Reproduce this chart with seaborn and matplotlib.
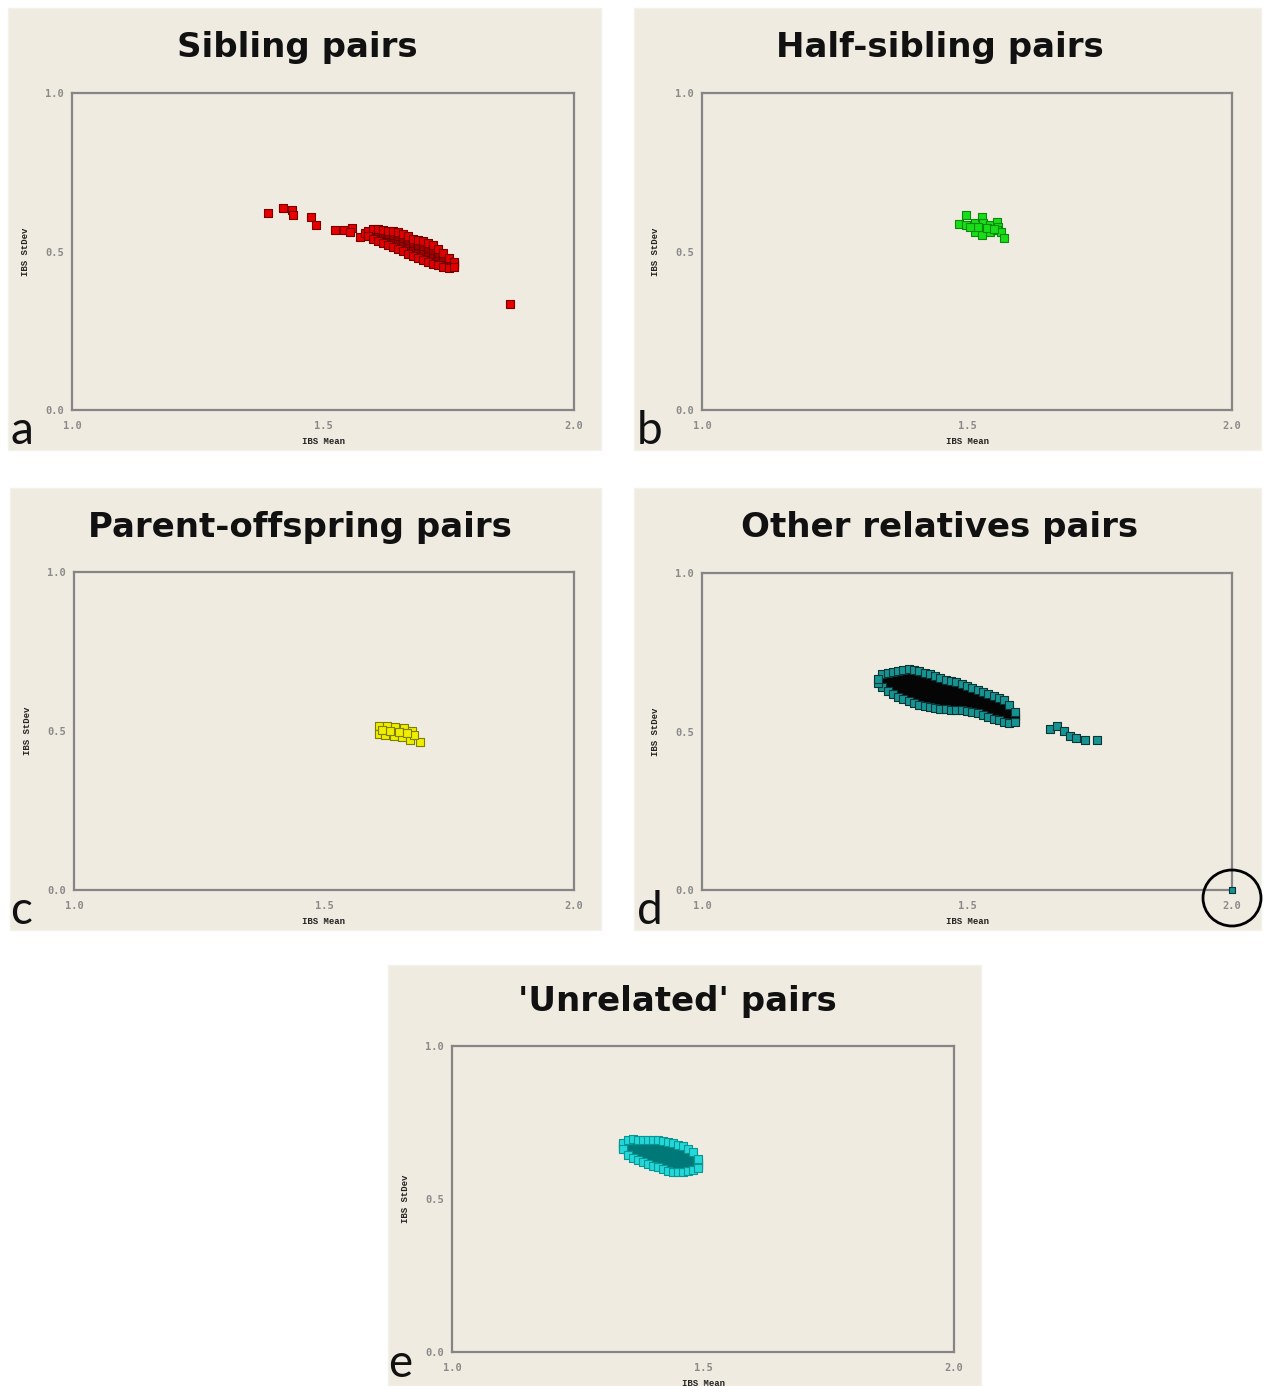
import matplotlib
matplotlib.use('Agg')
import matplotlib.pyplot as plt
from matplotlib.patches import Rectangle, Ellipse
import pandas as pd
import seaborn as sns

sns.set_theme(style='white')
plt.rcParams['font.family'] = ['DejaVu Sans']

# ---------------- data ----------------
titles = ['Sibling pairs', 'Half-sibling pairs', 'Parent-offspring pairs',
          'Other relatives pairs', "'Unrelated' pairs"]
letters = ['a', 'b', 'c', 'd', 'e']
x_ticks = [1.0, 1.5, 2.0]
x_tick_labels = ['1.0', '1.5', '2.0']
y_ticks = [0.0, 0.5, 1.0]
y_tick_labels = ['0.0', '0.5', '1.0']
x_label = 'IBS Mean'
y_label = 'IBS StDev'

# (a) sibling pairs
sib_out_x = [1.391, 1.421, 1.438, 1.440, 1.477, 1.486, 1.524, 1.542, 1.557, 1.554, 1.574, 1.584, 1.873]
sib_out_y = [0.622, 0.636, 0.631, 0.615, 0.610, 0.584, 0.568, 0.568, 0.573, 0.563, 0.545, 0.559, 0.333]
sib_band_x = [1.59, 1.60, 1.61, 1.62, 1.63, 1.64, 1.65, 1.66, 1.67, 1.68, 1.69, 1.70, 1.71, 1.72, 1.73, 1.74, 1.75, 1.76]
sib_upper_y = [0.566, 0.570, 0.570, 0.568, 0.566, 0.564, 0.561, 0.556, 0.549, 0.540, 0.536, 0.532, 0.527, 0.521, 0.508, 0.494, 0.480, 0.468]
sib_lower_y = [0.548, 0.540, 0.533, 0.527, 0.521, 0.514, 0.507, 0.500, 0.493, 0.486, 0.480, 0.474, 0.468, 0.462, 0.456, 0.450, 0.449, 0.452]
sib_core1_y = [0.553, 0.548, 0.542, 0.537, 0.532, 0.527, 0.521, 0.514, 0.507, 0.500, 0.494, 0.489, 0.483, 0.477, 0.469, 0.461, 0.457, 0.456]
sib_core2_y = [0.557, 0.555, 0.552, 0.548, 0.544, 0.539, 0.534, 0.528, 0.521, 0.513, 0.508, 0.503, 0.498, 0.492, 0.482, 0.472, 0.465, 0.460]
sib_core3_y = [0.562, 0.563, 0.561, 0.558, 0.555, 0.552, 0.548, 0.542, 0.535, 0.527, 0.522, 0.518, 0.512, 0.506, 0.495, 0.483, 0.472, 0.464]

# (b) half-sibling pairs
half_x = [1.499, 1.484, 1.499, 1.515, 1.528, 1.531, 1.543, 1.556, 1.559, 1.515,
          1.528, 1.543, 1.556, 1.565, 1.570, 1.521, 1.537, 1.550, 1.506]
half_y = [0.615, 0.587, 0.584, 0.589, 0.610, 0.591, 0.584, 0.594, 0.578, 0.560,
          0.552, 0.560, 0.568, 0.563, 0.542, 0.578, 0.573, 0.570, 0.576]

# (c) parent-offspring pairs
po_x = [1.609, 1.625, 1.642, 1.659, 1.675, 1.609, 1.622, 1.639, 1.655, 1.672,
        1.692, 1.679, 1.649, 1.632, 1.665, 1.615]
po_y = [0.516, 0.516, 0.512, 0.508, 0.501, 0.491, 0.487, 0.484, 0.480, 0.472,
        0.466, 0.487, 0.498, 0.501, 0.495, 0.503]

# (d) other relatives pairs
oth_x = [1.34, 1.35, 1.36, 1.37, 1.38, 1.39, 1.40, 1.41, 1.42, 1.43, 1.44, 1.45, 1.46,
         1.47, 1.48, 1.49, 1.50, 1.51, 1.52, 1.53, 1.54, 1.55, 1.56, 1.57, 1.58, 1.59]
oth_upper_y = [0.680, 0.686, 0.689, 0.692, 0.695, 0.697, 0.695, 0.690, 0.686, 0.680, 0.674, 0.668, 0.664,
               0.658, 0.655, 0.650, 0.645, 0.638, 0.631, 0.624, 0.618, 0.612, 0.605, 0.599, 0.585, 0.560]
oth_lower_y = [0.640, 0.628, 0.619, 0.610, 0.602, 0.595, 0.590, 0.585, 0.580, 0.576, 0.573, 0.571, 0.570,
               0.569, 0.568, 0.567, 0.565, 0.562, 0.558, 0.553, 0.546, 0.541, 0.536, 0.531, 0.528, 0.530]
oth_core1_y = [0.650, 0.642, 0.637, 0.630, 0.625, 0.620, 0.616, 0.611, 0.606, 0.602, 0.598, 0.595, 0.593,
               0.591, 0.590, 0.588, 0.585, 0.581, 0.576, 0.571, 0.564, 0.559, 0.553, 0.548, 0.542, 0.537]
oth_core2_y = [0.660, 0.657, 0.654, 0.651, 0.648, 0.646, 0.642, 0.637, 0.633, 0.628, 0.623, 0.619, 0.617,
               0.613, 0.611, 0.608, 0.605, 0.600, 0.594, 0.588, 0.582, 0.576, 0.570, 0.565, 0.556, 0.545]
oth_core3_y = [0.670, 0.672, 0.672, 0.672, 0.672, 0.672, 0.669, 0.664, 0.660, 0.654, 0.649, 0.644, 0.640,
               0.636, 0.633, 0.629, 0.625, 0.619, 0.613, 0.606, 0.600, 0.594, 0.588, 0.582, 0.571, 0.552]
oth_tail_x = [1.333, 1.333, 1.657, 1.670, 1.683, 1.694, 1.705, 1.723, 1.745]
oth_tail_y = [0.652, 0.667, 0.507, 0.517, 0.502, 0.486, 0.479, 0.473, 0.473]
oth_far_x = [2.0]
oth_far_y = [0.0]

# (e) 'unrelated' pairs
unr_x = [1.34, 1.35, 1.36, 1.37, 1.38, 1.39, 1.40, 1.41, 1.42, 1.43, 1.44, 1.45, 1.46, 1.47, 1.48, 1.49]
unr_upper_y = [0.684, 0.692, 0.695, 0.694, 0.693, 0.693, 0.693, 0.693, 0.691, 0.687, 0.682, 0.677, 0.673, 0.664, 0.652, 0.630]
unr_lower_y = [0.662, 0.645, 0.634, 0.627, 0.620, 0.615, 0.609, 0.604, 0.598, 0.592, 0.589, 0.589, 0.589, 0.590, 0.594, 0.600]
unr_core1_y = [0.668, 0.657, 0.649, 0.644, 0.638, 0.634, 0.630, 0.626, 0.621, 0.616, 0.612, 0.611, 0.610, 0.608, 0.608, 0.607]
unr_core2_y = [0.673, 0.668, 0.664, 0.660, 0.656, 0.654, 0.651, 0.648, 0.644, 0.639, 0.635, 0.633, 0.631, 0.627, 0.623, 0.615]
unr_core3_y = [0.679, 0.680, 0.680, 0.677, 0.675, 0.673, 0.672, 0.671, 0.668, 0.663, 0.659, 0.655, 0.652, 0.645, 0.638, 0.622]

# ---------------- layout ----------------
W, H = 1266, 1386
BG = '#EFEBE0'
fig = plt.figure(figsize=(W / 100, H / 100), dpi=100)
fig.patch.set_facecolor('white')


def fx(px):
    return px / W


def fy(py):
    return 1 - py / H


# panel boxes (l, t, r, b), axes boxes (l, t, r, b), title centre, letter pos
panel_boxes = [(8, 8, 601, 450), (634, 8, 1261, 450), (10, 488, 601, 930),
               (634, 488, 1261, 930), (388, 965, 981, 1386)]
axes_boxes = [(72, 93, 574, 410), (702, 93, 1232, 410), (74, 572, 574, 890),
              (702, 573, 1232, 890), (452, 1046, 954, 1352)]
title_pos = [(297, 47), (940, 47), (300, 527), (940, 527), (677, 1002)]
letter_pos = [(10, 444), (637, 444), (10, 924), (637, 924), (388, 1377)]

axes = []
for i in range(5):
    l, t, r, b = panel_boxes[i]
    fig.add_artist(Rectangle((fx(l), fy(b)), fx(r - l), (b - t) / H,
                             transform=fig.transFigure, facecolor=BG,
                             edgecolor='#F4F1EA', linewidth=1, zorder=0))
    al, at, ar, ab = axes_boxes[i]
    ax = fig.add_axes([fx(al), fy(ab), fx(ar - al), (ab - at) / H])
    ax.set_facecolor(BG)
    ax.set_xlim(1.0, 2.0)
    ax.set_ylim(0.0, 1.0)
    ax.set_xticks(x_ticks)
    ax.set_xticklabels(x_tick_labels)
    ax.set_yticks(y_ticks)
    ax.set_yticklabels(y_tick_labels)
    ax.tick_params(axis='both', direction='out', length=3, width=1.2,
                   color='#808080', labelsize=7.5, labelcolor='#8A8A8A', pad=3)
    ax.tick_params(axis='x', pad=5)
    for lab in ax.get_xticklabels() + ax.get_yticklabels():
        lab.set_family('DejaVu Sans Mono')
        lab.set_fontweight('bold')
    for sp in ax.spines.values():
        sp.set_visible(True)
        sp.set_color('#858585')
        sp.set_linewidth(1.6)
    ax.grid(False)
    hpx = ab - at
    wpx = ar - al
    ax.text(0.5, -32 / hpx, x_label, transform=ax.transAxes, ha='center', va='center',
            fontsize=6.5, fontweight='bold', family='Liberation Mono', color='#222222')
    ax.text(-46 / wpx, 0.5, y_label, transform=ax.transAxes, ha='center', va='center',
            rotation=90, fontsize=6.5, fontweight='bold', family='Liberation Mono',
            color='#222222')
    tx, ty = title_pos[i]
    fig.text(fx(tx), fy(ty), titles[i], ha='center', va='center', fontsize=24.5,
             fontweight='bold', family='DejaVu Sans', color='#111111')
    lx, ly = letter_pos[i]
    fig.text(fx(lx), fy(ly), letters[i], ha='left', va='baseline', fontsize=33,
             family='Lato', color='#111111')
    axes.append(ax)


def scat(ax, xs, ys, fc, ec, s=28, lw=0.8, clip=True):
    df = pd.DataFrame({'x': xs, 'y': ys})
    sns.scatterplot(data=df, x='x', y='y', ax=ax, marker='s', s=s, color=fc,
                    edgecolor=ec, linewidth=lw, legend=False, clip_on=clip, zorder=3)
    ax.set_xlabel('')
    ax.set_ylabel('')


# (a)
scat(axes[0], sib_out_x, sib_out_y, '#E80000', '#7A0000')
scat(axes[0], sib_band_x * 3, sib_core1_y + sib_core2_y + sib_core3_y, '#A00000', '#680000', s=32)
scat(axes[0], sib_band_x * 2, sib_upper_y + sib_lower_y, '#E00000', '#720000')

# (b)
scat(axes[1], half_x, half_y, '#18DD18', '#0A8A0A')

# (c)
scat(axes[2], po_x, po_y, '#F0EE00', '#7E7E00')

# (d)
scat(axes[3], oth_x * 3, oth_core1_y + oth_core2_y + oth_core3_y, '#050505', '#050505', s=36)
scat(axes[3], oth_x * 2, oth_upper_y + oth_lower_y, '#169494', '#0B3535')
scat(axes[3], oth_tail_x, oth_tail_y, '#169494', '#0B3535')
scat(axes[3], oth_far_x, oth_far_y, '#169494', '#0B3535', s=22, clip=False)

# (e)
scat(axes[4], unr_x * 3, unr_core1_y + unr_core2_y + unr_core3_y, '#007878', '#007878', s=36)
scat(axes[4], unr_x * 2, unr_upper_y + unr_lower_y, '#22D8D8', '#0A9595')

# circle highlighting the (2.0, 0.0) point in panel d
fig.add_artist(Ellipse((fx(1232), fy(898)), 58 / W, 56 / H, transform=fig.transFigure,
                       fill=False, edgecolor='black', linewidth=2.0, zorder=10))

fig.savefig('out.png', dpi=100, facecolor='white')
